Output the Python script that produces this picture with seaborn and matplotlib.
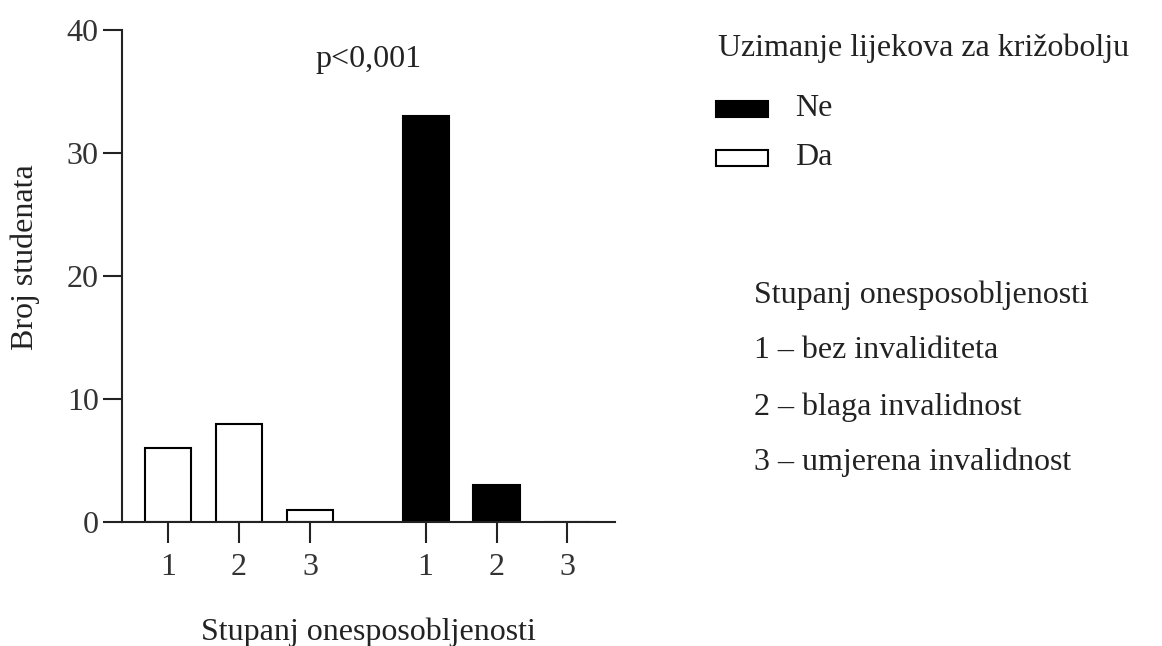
import matplotlib
matplotlib.use("Agg")
import matplotlib.pyplot as plt
import matplotlib.patches as mpatches
import seaborn as sns
import pandas as pd

# Data
levels = ["1", "2", "3"]
groups = ["Da", "Ne"]
da_values = [6, 8, 1]
ne_values = [33, 3, 0]
y_ticks = [0, 10, 20, 30, 40]
legend_title = "Uzimanje lijekova za križobolju"
legend_labels = ["Ne", "Da"]
note_lines = ["Stupanj onesposobljenosti", "1 – bez invaliditeta",
              "2 – blaga invalidnost", "3 – umjerena invalidnost"]

sns.set_theme(style="ticks")
plt.rcParams["font.family"] = ["Liberation Serif", "DejaVu Serif"]

FS = 23
group_gap = 3.63
rows = []
for gi, (g, vals) in enumerate(zip(groups, [da_values, ne_values])):
    for li, (lv, v) in enumerate(zip(levels, vals)):
        rows.append({"pos": gi * group_gap + li, "level": lv, "group": g, "value": v})
df = pd.DataFrame(rows)

W, H = 1162, 646
fig = plt.figure(figsize=(W/100, H/100), dpi=100)
ax = fig.add_axes([122/W, 1-522/H, (615-122)/W, (522-30)/H])

sns.barplot(data=df, x="pos", y="value", hue="group", native_scale=True,
            dodge=False, palette={"Da": "white", "Ne": "black"},
            edgecolor="black", linewidth=1.5, width=0.65, ax=ax, legend=False)

ax.set_xlim(-0.65, 6.3)
ax.set_ylim(0, 40)
ax.set_yticks(y_ticks)
ax.set_xticks(df["pos"].tolist())
ax.set_xticklabels(df["level"].tolist())
for s in ["top", "right"]:
    ax.spines[s].set_visible(False)
for s in ["left", "bottom"]:
    ax.spines[s].set_linewidth(1.5)
    ax.spines[s].set_color("#222222")
ax.tick_params(axis="y", length=13.7, width=1.5, labelsize=FS, pad=3,
               colors="#222222", labelcolor="#333333")
ax.tick_params(axis="x", length=15, width=1.5, labelsize=FS, pad=7,
               colors="#222222", labelcolor="#333333")
ax.set_xlabel("Stupanj onesposobljenosti", fontsize=FS, color="#222222")
ax.set_ylabel("Broj studenata", fontsize=FS, color="#222222")
ax.xaxis.set_label_coords(0.5, (522-632)/492)
ax.yaxis.set_label_coords((25-122)/493, (522-257)/492)
ax.xaxis.label.set_va("center")
ax.yaxis.label.set_va("center")

ax.text(0.5, (522-60)/492, "p<0,001", fontsize=FS, ha="center", va="center",
        transform=ax.transAxes, color="#222222")

# legend drawn as patches + text in figure coordinates
fig.text(718/W, 1-48/H, legend_title, fontsize=FS, ha="left", va="center", color="#222222")
for lab, col, yc in zip(legend_labels, ["black", "white"], [109, 158]):
    fig.patches.append(mpatches.Rectangle((716/W, 1-(yc+8)/H), 52/W, 16/H,
                                          facecolor=col, edgecolor="black",
                                          linewidth=1.5, transform=fig.transFigure,
                                          figure=fig))
    fig.text(795/W, 1-yc/H, lab, fontsize=FS, ha="left", va="center", color="#222222")

ys = [295, 350, 407, 462]
for t, y in zip(note_lines, ys):
    fig.text(754/W, 1-y/H, t, fontsize=FS, ha="left", va="center", color="#222222")

fig.savefig("out.png", dpi=100)
